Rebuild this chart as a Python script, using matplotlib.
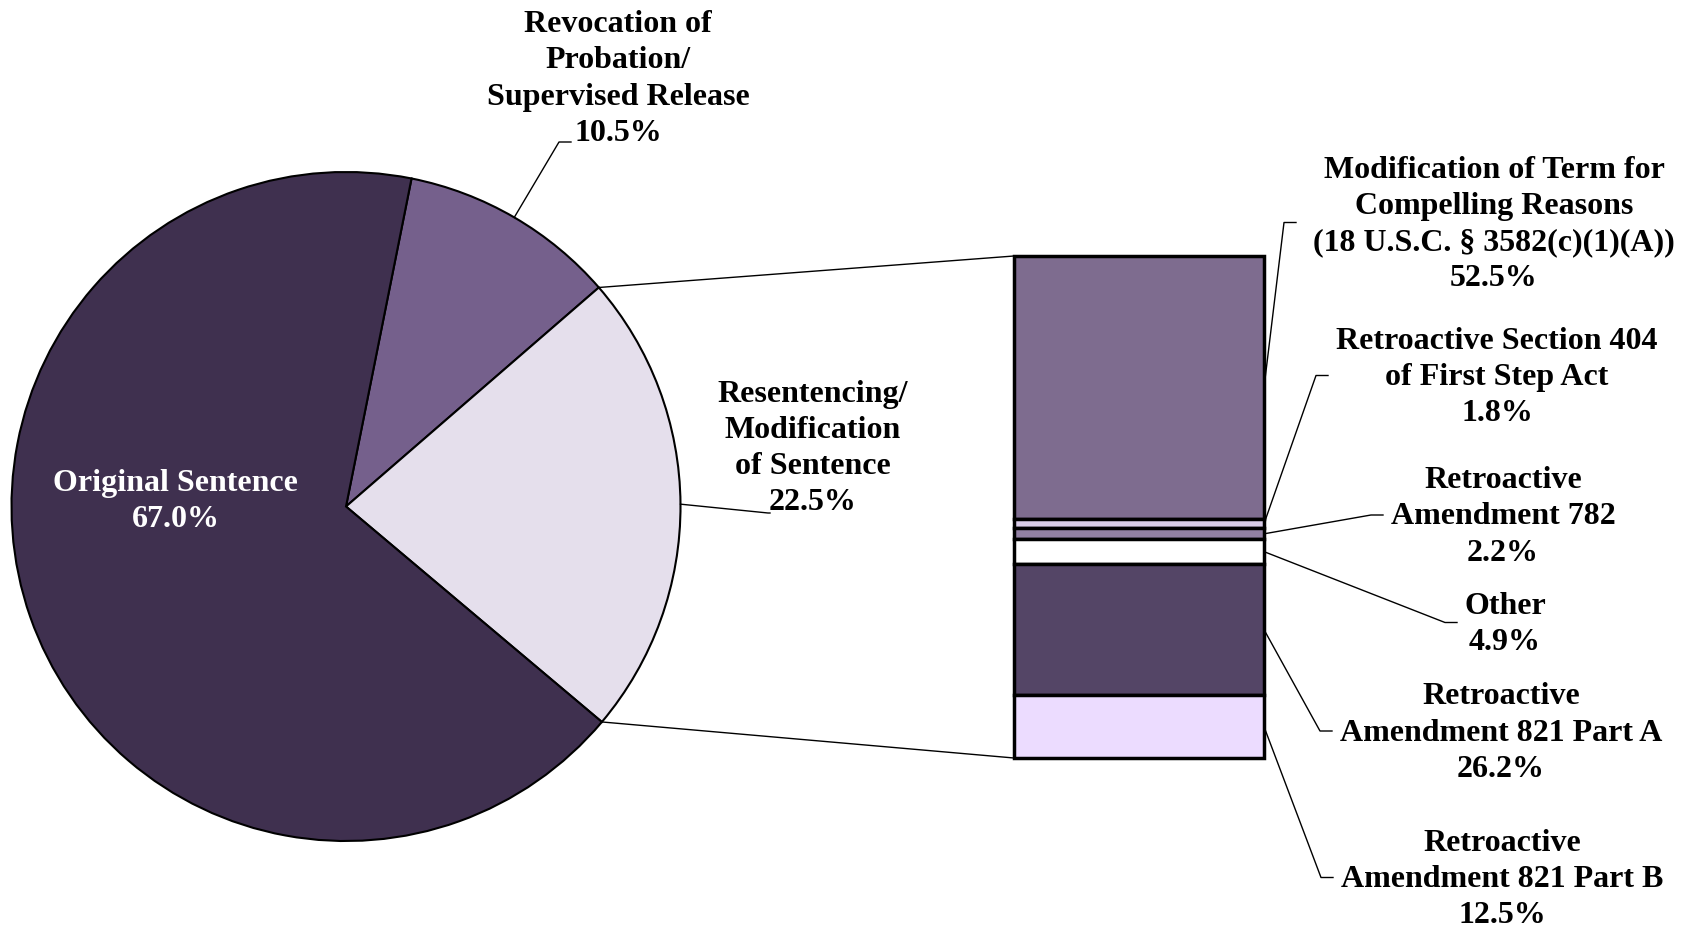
import numpy as np
import matplotlib
matplotlib.use('Agg')
import matplotlib.pyplot as plt
from matplotlib.lines import Line2D

plt.rcParams['font.family'] = ['Liberation Serif', 'DejaVu Serif']
plt.rcParams['font.weight'] = 'bold'

# 饼图数据
pie_labels = ['Revocation of\nProbation/\nSupervised Release', 'Resentencing/\nModification\nof Sentence', 'Original Sentence']
pie_values = [10.5, 22.5, 67.0]
pie_colors = ['#75608C', '#E5DFEC', '#3F304F']

# 柱状分解数据（从上到下）
bar_labels = ['Modification of Term for\nCompelling Reasons\n(18 U.S.C. § 3582(c)(1)(A))',
              'Retroactive Section 404\nof First Step Act',
              'Retroactive\nAmendment 782',
              'Other',
              'Retroactive\nAmendment 821 Part A',
              'Retroactive\nAmendment 821 Part B']
bar_values = [52.5, 1.8, 2.2, 4.9, 26.2, 12.5]
bar_colors = ['#7E6C8F', '#D9CCE8', '#9280A3', '#FFFFFF', '#544566', '#ECDCFF']

W, H = 1686, 930
FS = 23
LS = 1.33

fig = plt.figure(figsize=(W / 100, H / 100), dpi=100)

# 像素坐标 -> 图坐标（y 从顶部）
def px(x, y):
    return x, H - y

# 饼图
ax_pie = fig.add_axes([(346 - 334.5) / W, (H - 841) / H, 669 / W, 669 / H])
start = 78.7
wedges, _ = ax_pie.pie(pie_values, colors=pie_colors, startangle=start, counterclock=False,
                       radius=1, wedgeprops=dict(edgecolor='black', linewidth=1.5))
ax_pie.set_xlim(-1, 1)
ax_pie.set_ylim(-1, 1)

# 柱状图
ax_bar = fig.add_axes([1014 / W, (H - 758) / H, 250 / W, 502 / H])
total = sum(bar_values)
tops = np.cumsum([0] + bar_values[:-1])
for v, b, c in zip(bar_values, tops, bar_colors):
    ax_bar.bar(0.5, v, width=1, bottom=b, color=c, edgecolor='black', linewidth=2.5, clip_on=False)
ax_bar.set_xlim(0, 1)
ax_bar.set_ylim(total, 0)
ax_bar.axis('off')

def draw_line(points):
    xs = [p[0] for p in points]
    ys = [p[1] for p in points]
    fig.add_artist(Line2D(xs, ys, transform=None, color='black', linewidth=1.0))

# 饼图到柱图的连接线
angles = start - np.cumsum([0] + pie_values) * 3.6
for ang, yb in [(angles[1], 0), (angles[2], total)]:
    p0 = ax_pie.transData.transform((np.cos(np.radians(ang)), np.sin(np.radians(ang))))
    p1 = ax_bar.transData.transform((0, yb))
    draw_line([p0, p1])

# 饼图标签
ax_pie.text(-0.51, 0.015, 'Original Sentence\n67.0%', ha='center', va='center', color='white',
            fontsize=FS, fontweight='bold', linespacing=LS)

pie_label_pos = [(618, 79), (813, 448.5)]
pie_elbows = [[(559, 142), (571, 142)], [(768, 513), (770, 513)]]
for i in range(2):
    mid = np.radians(start - (sum(pie_values[:i]) + pie_values[i] / 2) * 3.6)
    p0 = ax_pie.transData.transform((np.cos(mid), np.sin(mid)))
    draw_line([p0] + [px(*e) for e in pie_elbows[i]])
    x, y = pie_label_pos[i]
    fig.text(x / W, 1 - y / H, f'{pie_labels[i]}\n{pie_values[i]:.1f}%', ha='center', va='center',
             fontsize=FS, fontweight='bold', linespacing=LS)

# 柱图标签
bar_label_x = [1494, 1497, 1503, 1505, 1501, 1502]
bar_label_y = [224.5, 377.5, 517, 624.5, 733, 879.5]
bar_elbow_x = [1284, 1316, 1371, 1445, 1320, 1321]
for i in range(len(bar_values)):
    mid = tops[i] + bar_values[i] / 2
    p0 = ax_bar.transData.transform((1, mid))
    ex, ey = bar_elbow_x[i], bar_label_y[i] - 2
    draw_line([p0, px(ex, ey), px(ex + 12, ey)])
    fig.text(bar_label_x[i] / W, 1 - bar_label_y[i] / H, f'{bar_labels[i]}\n{bar_values[i]:.1f}%',
             ha='center', va='center', fontsize=FS, fontweight='bold', linespacing=LS)

plt.savefig('out.png', dpi=100)
plt.close()
